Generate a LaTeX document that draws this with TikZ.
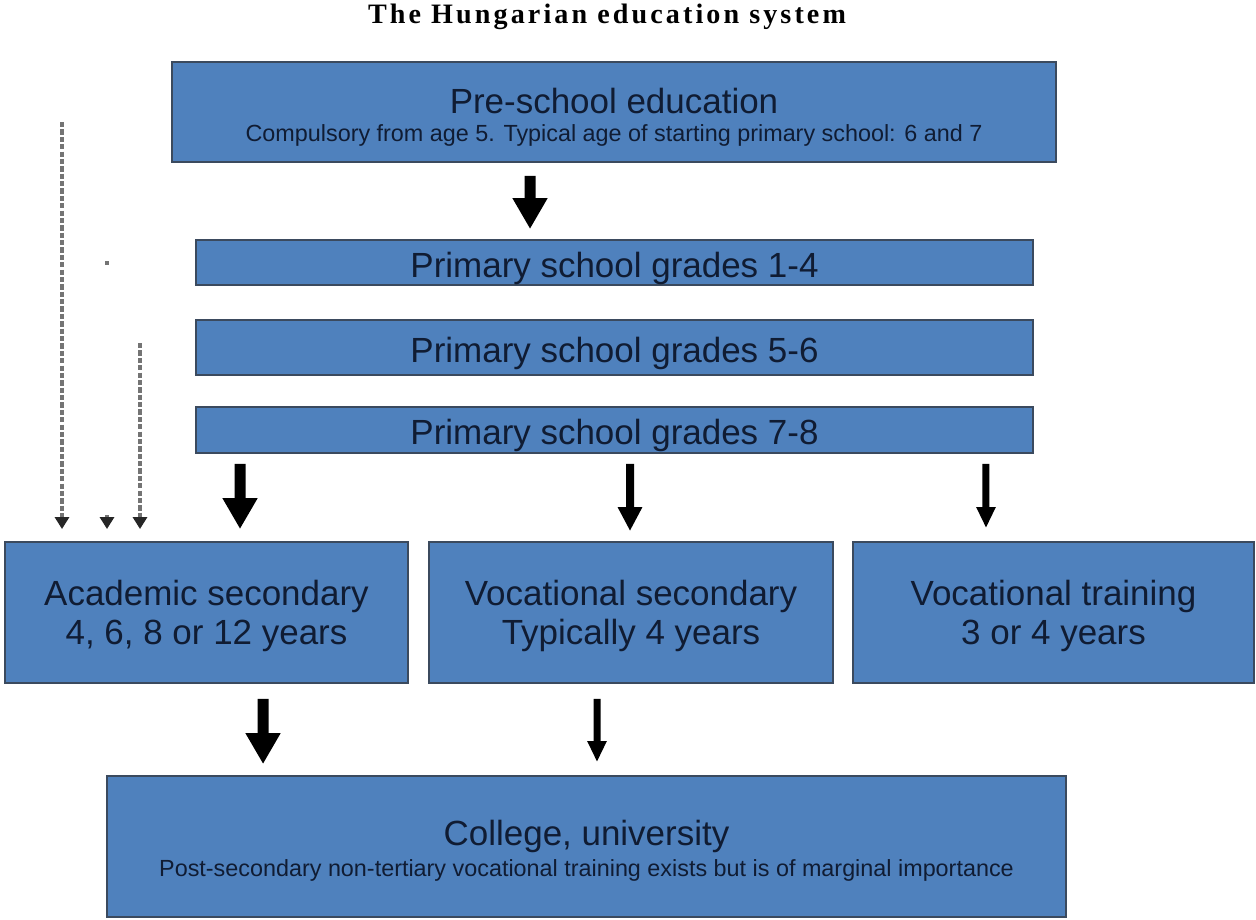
\documentclass[tikz,border=0pt]{standalone}
\usepackage{fontspec}
\setmainfont{Liberation Sans}
\newfontfamily\titlefont[LetterSpace=11]{Liberation Serif}
\usepackage{xcolor}
\usetikzlibrary{arrows.meta,positioning}

\definecolor{boxblue}{HTML}{4F81BD}
\definecolor{boxline}{HTML}{3B4A5E}
\definecolor{boxtext}{HTML}{101C33}
\definecolor{agegray}{HTML}{747474}
\newcommand{\boxfont}{\fontsize{19.9}{22.2}\selectfont}
\newcommand{\notefont}{\fontsize{13.3}{15}\selectfont}
% invisible strut on the first line, pushes the text block down a little
\newcommand{\lift}[1]{\rule{0pt}{#1}}

\begin{document}
\begin{tikzpicture}[x=0.02cm,y=-0.02cm,
    level node/.style={draw=boxline,line width=1.1pt,fill=boxblue,text=boxtext,inner sep=0pt,align=center,font=\boxfont},
    big arrow/.style={line width=0.22cm,-{Triangle[width=0.66cm,length=0.62cm]}},
    mid arrow/.style={line width=0.16cm,-{Triangle[width=0.46cm,length=0.48cm]}},
    thin arrow/.style={line width=0.14cm,-{Triangle[width=0.36cm,length=0.42cm]}},
    age arrow/.style={agegray,line width=2pt,dash pattern=on 3pt off 1.2pt,-{Triangle[width=0.28cm,length=0.24cm,color=black!85]}}]

    \useasboundingbox (0,0) rectangle (1256,919);

    \node[font=\titlefont\bfseries\fontsize{16}{19}\selectfont] (title) at (607,17) {The Hungarian education system};

    \node[level node, minimum width=17.68cm, minimum height=2cm] (pre) at (614,112)
        {\lift{20.1pt}Pre-school education\\[-6pt]{\notefont Compulsory from age 5. Typical age of starting primary school: 6 and 7}};
    \node[level node, minimum width=16.74cm, minimum height=0.9cm] (prim1) at (614.5,262.5) {\lift{20.8pt}Primary school grades 1-4};
    \node[level node, minimum width=16.74cm, minimum height=1.1cm] (prim2) at (614.5,347.5) {\lift{20.8pt}Primary school grades 5-6};
    \node[level node, minimum width=16.74cm, minimum height=0.92cm] (prim3) at (614.5,430) {\lift{20.8pt}Primary school grades 7-8};

    \node[level node, minimum width=8.06cm, minimum height=2.82cm] (acad) at (206.5,612.5) {\lift{17.9pt}Academic secondary\\4, 6, 8 or 12 years};
    \node[level node, minimum width=8.08cm, minimum height=2.82cm] (voc) at (631,612.5) {\lift{17.9pt}Vocational secondary\\Typically 4 years};
    \node[level node, minimum width=8.02cm, minimum height=2.82cm] (train) at (1053.5,612.5) {\lift{17.9pt}Vocational training\\3 or 4 years};

    \node[level node, minimum width=19.18cm, minimum height=2.82cm] (coll) at (586.5,846.5)
        {\lift{19.6pt}College, university\\[-4.5pt]{\notefont Post-secondary non-tertiary vocational training exists but is of marginal importance}};

    \path[big arrow, shorten <=0.26cm, shorten >=0.2cm]
        ([xshift=-1.68cm]pre.south) edge ([xshift=-1.69cm]prim1.north);
    \path[big arrow, shorten <=0.2cm, shorten >=0.24cm]
        ([xshift=-7.49cm]prim3.south) edge ([xshift=0.67cm]acad.north);
    \path[mid arrow, shorten <=0.2cm, shorten >=0.2cm]
        ([xshift=0.31cm]prim3.south) edge ([xshift=-0.02cm]voc.north);
    \path[thin arrow, shorten <=0.2cm, shorten >=0.26cm]
        ([xshift=7.43cm]prim3.south) edge ([xshift=-1.35cm]train.north);
    \path[big arrow, shorten <=0.3cm, shorten >=0.22cm]
        ([xshift=1.13cm]acad.south) edge ([xshift=-6.47cm]coll.north);
    \path[thin arrow, shorten <=0.3cm, shorten >=0.26cm]
        ([xshift=-0.68cm]voc.south) edge ([xshift=0.21cm]coll.north);

    % entry points into academic secondary
    \coordinate (ageA) at (62,122);
    \coordinate (ageB) at (107,515);
    \coordinate (ageC) at (140,343);
    \node[fill=agegray, inner sep=0pt, minimum size=2.4pt] (dotB) at (107,263) {};
    \draw[age arrow, shorten >=0.24cm] (ageA) -- (ageA |- acad.north);
    \draw[age arrow, shorten >=0.24cm] (ageB) -- (ageB |- acad.north);
    \draw[age arrow, shorten >=0.24cm] (ageC) -- (ageC |- acad.north);
\end{tikzpicture}
\end{document}
